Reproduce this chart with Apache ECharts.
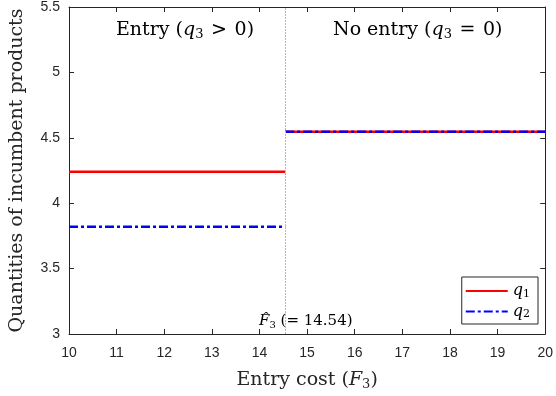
<!DOCTYPE html>
<html><head><meta charset="utf-8">
<script src="https://cdn.jsdelivr.net/npm/echarts@6/dist/echarts.min.js"></script>
<style>html,body{margin:0;padding:0;background:#fff}#c{width:556px;height:396px}</style>
</head><body><div id="c"></div>
<script>
// Data
const xRange = [10, 20];
const yRange = [3, 5.5];
const xTicks = [10, 11, 12, 13, 14, 15, 16, 17, 18, 19, 20];
const yTicks = [3, 3.5, 4, 4.5, 5, 5.5];
const threshold = 14.54;          // F3 hat
const q1Values = [4.24, 4.547];   // entry, no entry
const q2Values = [3.82, 4.547];   // entry, no entry
const seriesNames = ['q1', 'q2'];

function stepData(vals) {
  return [[xRange[0], vals[0]], [threshold, vals[0]], [threshold, '-'], [threshold, vals[1]], [xRange[1], vals[1]]];
}

const serif = 'DejaVu Serif';
const axCol = '#262626';
const chart = echarts.init(document.getElementById('c'), null, {renderer: 'canvas'});

const baseAxis = {
  axisLine: {show: true, lineStyle: {color: axCol, width: 1}},
  axisTick: {show: true, inside: true, length: 5, lineStyle: {color: axCol}},
  splitLine: {show: false}
};

chart.setOption({
  animation: false,
  grid: {left: 65, right: 8, top: 6, bottom: 60},
  xAxis: [
    Object.assign({}, baseAxis, {type: 'value', min: xRange[0], max: xRange[1], interval: 1,
      axisLabel: {color: axCol, fontFamily: 'Liberation Sans', fontSize: 14, margin: 12},
      name: '{t|Entry cost (}{i|F}{s|3}{t|)}', nameLocation: 'middle', nameGap: 36,
      nameTextStyle: {rich: {
        t: {fontFamily: serif, fontSize: 19, color: axCol},
        i: {fontFamily: serif, fontSize: 19, fontStyle: 'italic', color: axCol},
        s: {fontFamily: serif, fontSize: 13, color: axCol, verticalAlign: 'bottom', padding: [8, 0, 0, 0]}
      }}}),
    Object.assign({}, baseAxis, {type: 'value', min: xRange[0], max: xRange[1], interval: 1, position: 'top',
      axisLabel: {show: false}})
  ],
  yAxis: [
    Object.assign({}, baseAxis, {type: 'value', min: yRange[0], max: yRange[1], interval: 0.5,
      axisLabel: {color: axCol, fontFamily: 'Liberation Sans', fontSize: 14, margin: 9},
      name: 'Quantities of incumbent products', nameLocation: 'middle', nameGap: 42,
      nameTextStyle: {fontFamily: serif, fontSize: 19, color: axCol}}),
    Object.assign({}, baseAxis, {type: 'value', min: yRange[0], max: yRange[1], interval: 0.5, position: 'right',
      axisLabel: {show: false}})
  ],
  legend: {
    orient: 'vertical', right: 18, top: 277,
    itemWidth: 42, itemHeight: 10, itemGap: 4,
    padding: [6, 8, 4, 3],
    borderColor: axCol, borderWidth: 1, backgroundColor: '#fff',
    itemStyle: {opacity: 0},
    data: seriesNames,
    formatter: function (n) { return '{q|q}{s|' + n.slice(1) + '}'; },
    textStyle: {rich: {
      q: {fontFamily: serif, fontSize: 16, fontStyle: 'italic', color: '#000', height: 18},
      s: {fontFamily: serif, fontSize: 11, color: '#000', verticalAlign: 'bottom', height: 18, padding: [6, 0, 0, 0]}
    }}
  },
  series: [
    {name: seriesNames[0], type: 'line', data: stepData(q1Values), showSymbol: false, symbol: 'none',
      connectNulls: false, z: 3,
      lineStyle: {color: '#ff0000', width: 2.5, type: 'solid'}, itemStyle: {color: '#ff0000'},
      markLine: {silent: true, symbol: 'none', label: {show: false},
        lineStyle: {color: '#b8b8b8', width: 1, type: [2, 1]},
        data: [{xAxis: threshold}]}},
    {name: seriesNames[1], type: 'line', data: stepData(q2Values), showSymbol: false, symbol: 'none',
      connectNulls: false, z: 4,
      lineStyle: {color: '#0000ff', width: 2.5, type: [9, 3, 3, 3]}, itemStyle: {color: '#0000ff'}}
  ],
  graphic: [
    {type: 'text', left: 116, top: 21, style: {rich: {
        t: {fontFamily: serif, fontSize: 19, fill: '#000'},
        i: {fontFamily: serif, fontSize: 19, fontStyle: 'italic', fill: '#000'},
        s: {fontFamily: serif, fontSize: 13, fill: '#000', padding: [9, 0, 0, 0]}
      }, text: '{t|Entry (}{i|q}{s|3}{t|\u2009\u2009>\u2009\u20090)}'}},
    {type: 'text', left: 333, top: 21, style: {rich: {
        t: {fontFamily: serif, fontSize: 19, fill: '#000'},
        i: {fontFamily: serif, fontSize: 19, fontStyle: 'italic', fill: '#000'},
        s: {fontFamily: serif, fontSize: 13, fill: '#000', padding: [9, 0, 0, 0]}
      }, text: '{t|No entry (}{i|q}{s|3}{t|\u2009\u2009=\u2009\u20090)}'}},
    {type: 'text', left: 259, top: 314, style: {rich: {
        t: {fontFamily: serif, fontSize: 15, fill: '#000'},
        i: {fontFamily: serif, fontSize: 15, fontStyle: 'italic', fill: '#000'},
        s: {fontFamily: serif, fontSize: 10, fill: '#000', padding: [7, 0, 0, 0]}
      }, text: '{i|F\u0302}{s|3}{t| (= 14.54)}'}}
  ]
});
</script></body></html>
